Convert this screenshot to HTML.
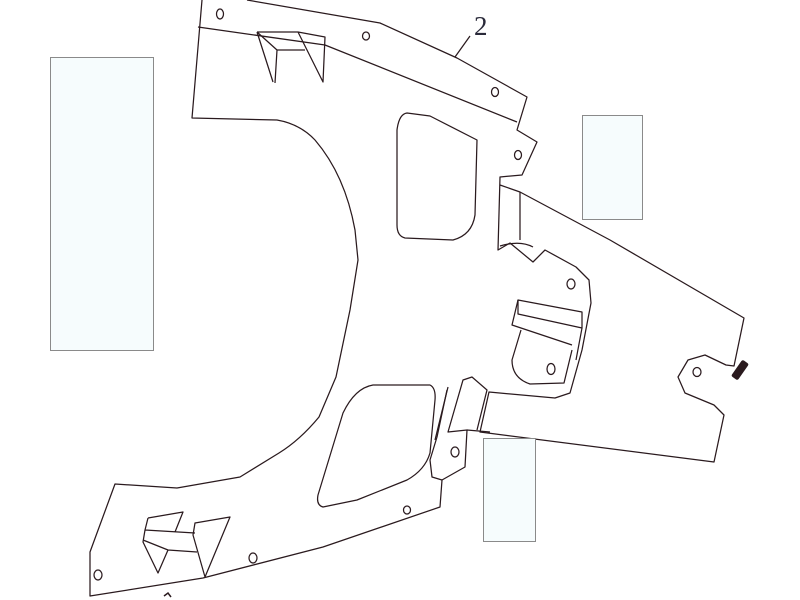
<!DOCTYPE html>
<html><head><meta charset="utf-8"><style>
html,body{margin:0;padding:0;background:#fff;}
svg{display:block;}
</style></head><body>
<svg width="800" height="600" viewBox="0 0 800 600" xmlns="http://www.w3.org/2000/svg">
<g fill="none" stroke="#2a1a1e" stroke-width="1.25" stroke-linejoin="round">
<path d="M202,0 L192,118 L277,120 Q300,124 315,140 Q345,175 355,230 L358,260 L350,310 L336,377 L319,417 Q300,440 279,453 L240,477 L177,488 L115,484 L90,552 L90,596 L203,578 L323,547 L440,507 L442,480 L432,477 L430,460 L437,437 L447,390"/>
<path d="M247,0 L380,23 L457,58 L527,97 L517,130 L537,142 L522,175 L500,177 L498,250 L510,243 L533,262 L545,250 L576,267 L589,280 L591,303 L582,350 L570,393 L555,398 L489,392 L480,432 L714,462 L724,415 L714,405 L685,393 L678,377 L688,360 L705,355 L726,365 L734,366 L744,318 L610,240 L520,192 L500,185"/>
<path d="M198,27 L325,45 L517,122"/>
<path d="M520,192 L520,240"/>
<path d="M500,246 Q520,240 533,247"/>
<path d="M442,480 L465,467 L467,430 L448,432 L463,380 L472,377 L487,390 L477,430 M467,430 L490,432"/>
<path d="M448,387 L435,440"/>
<path d="M407,113 L430,116 L477,140 L475,215 Q472,235 453,240 L405,238 Q397,236 397,225 L397,130 Q399,114 407,113 Z"/>
<path d="M323,507 Q316,505 318,495 L343,413 Q355,388 373,385 L430,385 Q436,388 435,400 L430,453 Q425,470 407,480 L357,500 Z"/>
<path d="M518,300 L582,312 L582,328 L518,314 Z"/>
<path d="M518,300 L512,325 L572,345"/>
<path d="M521,330 L512,360 Q512,378 530,384 L564,383 L572,350"/>
<path d="M582,328 L576,360"/>
<path d="M257,32 L298,32 L325,37 L323,82 L298,32 M257,32 L273,82 M257,32 L277,50 L305,50 M277,50 L275,83"/>
<path d="M148,518 L183,512 L175,532 M148,518 L145,530 L143,542 L158,573 L168,550 L143,540 M145,530 L195,533 M168,550 L197,552"/>
<path d="M195,523 L230,517 L205,577 L193,535 Z"/>
<path d="M470,36 L455,57"/>
<ellipse cx="220" cy="14" rx="3.5" ry="5"/>
<ellipse cx="366" cy="36" rx="3.5" ry="4"/>
<ellipse cx="495" cy="92" rx="3.5" ry="4.5"/>
<ellipse cx="518" cy="155" rx="3.5" ry="4.5"/>
<ellipse cx="571" cy="284" rx="4" ry="5"/>
<ellipse cx="551" cy="369" rx="4" ry="5.5"/>
<ellipse cx="697" cy="372" rx="4" ry="4.5"/>
<ellipse cx="455" cy="452" rx="4" ry="5"/>
<ellipse cx="407" cy="510" rx="3.5" ry="4"/>
<ellipse cx="253" cy="558" rx="4" ry="5"/>
<ellipse cx="98" cy="575" rx="4" ry="5"/>
</g>
<text x="474" y="35" font-family="Liberation Serif, serif" font-size="27" fill="#2a2a3a">2</text>
<rect x="736" y="360" width="8" height="20" rx="2" fill="#2a1a1e" transform="rotate(35 740 370)"/>
<path d="M164,596 l4,-3 l3,4" stroke="#2a1a1e" stroke-width="1.5" fill="none"/>
<rect x="50.5" y="57.5" width="103" height="293" fill="#f6fcfd" stroke="#8a8a8a"/>
<rect x="582.5" y="115.5" width="60" height="104" fill="#f6fcfd" stroke="#8a8a8a"/>
<rect x="483.5" y="438.5" width="52" height="103" fill="#f6fcfd" stroke="#8a8a8a"/>
</svg>
</body></html>
